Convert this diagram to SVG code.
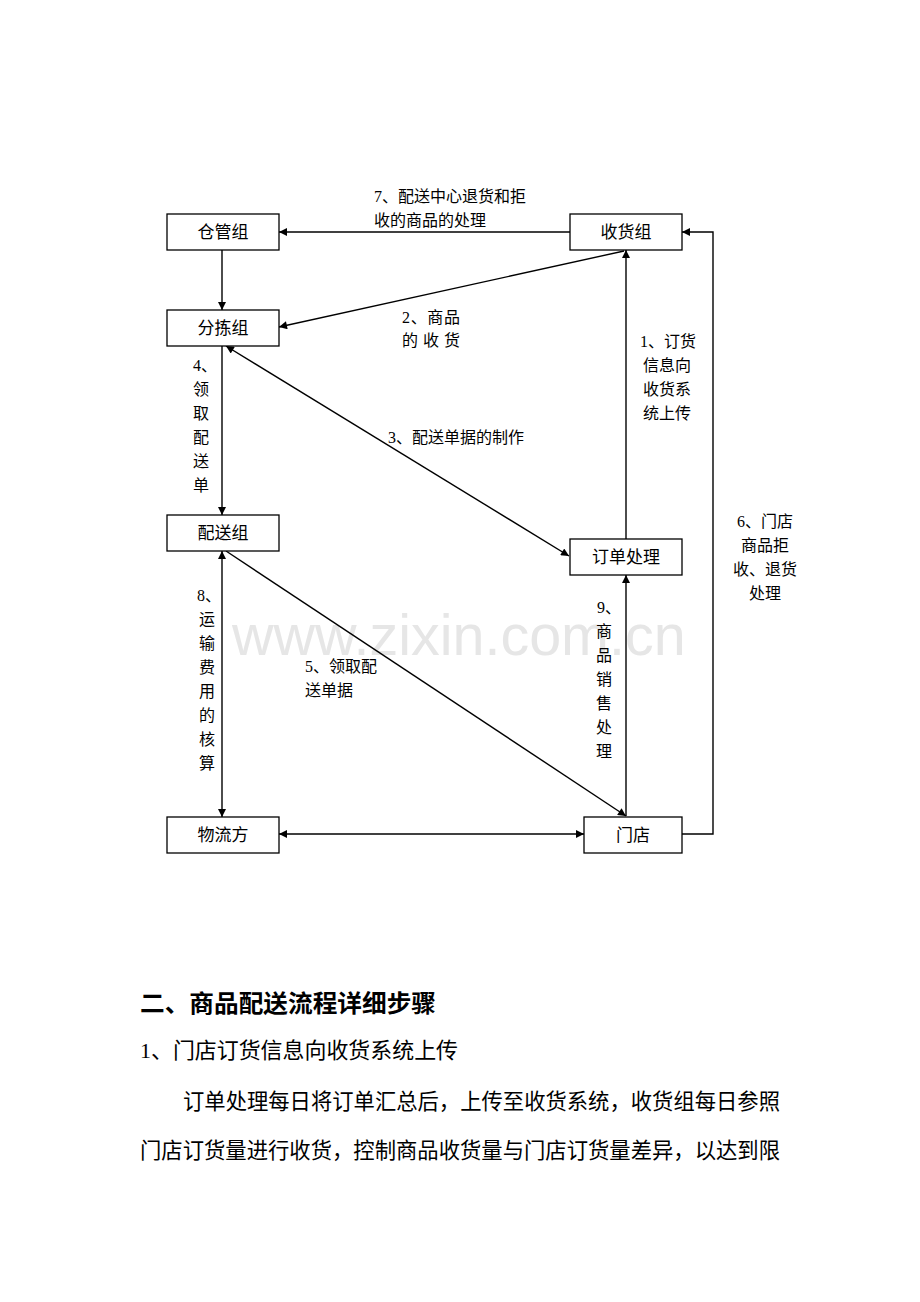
<svg xmlns="http://www.w3.org/2000/svg" width="920" height="1302" viewBox="0 0 920 1302">
<style>
.box{fill:#fff;stroke:#000;stroke-width:1.3}
.ln{fill:none;stroke:#000;stroke-width:1.4}
.nt{font-family:"Liberation Serif","Noto Sans CJK SC",serif;font-size:17px;fill:#000;text-anchor:middle}
.lb{font-family:"Liberation Serif","Noto Sans CJK SC",serif;font-size:16px;fill:#000}
.lc{font-family:"Liberation Serif","Noto Sans CJK SC",serif;font-size:16px;fill:#000;text-anchor:middle}
.wm{font-family:"Liberation Sans",Arial,sans-serif;font-size:57.5px;fill:#e6e6e6}
.h1{font-family:"Liberation Serif","Noto Sans CJK SC",serif;font-size:24px;font-weight:bold;fill:#000}
.p{font-family:"Liberation Serif","Noto Sans CJK SC",serif;font-size:22px;fill:#000}
</style>
<defs>
<marker id="ah" viewBox="0 0 10 10" refX="10" refY="5" markerWidth="10" markerHeight="8" markerUnits="userSpaceOnUse" orient="auto-start-reverse">
<path d="M0,0 L10,5 L0,10 z" fill="#000"/>
</marker>
</defs>
<rect width="920" height="1302" fill="#fff"/>
<text class="wm" x="232" y="655">www.zixin.com.cn</text>
<g id="connectors">
<line class="ln" x1="570" y1="232" x2="279" y2="232" marker-end="url(#ah)"/>
<line class="ln" x1="222" y1="250" x2="222" y2="310" marker-end="url(#ah)"/>
<line class="ln" x1="624" y1="251" x2="279" y2="327" marker-end="url(#ah)"/>
<line class="ln" x1="626" y1="539" x2="626" y2="250" marker-end="url(#ah)"/>
<line class="ln" x1="226" y1="346" x2="569" y2="556" marker-start="url(#ah)" marker-end="url(#ah)"/>
<line class="ln" x1="222" y1="346" x2="222" y2="515" marker-end="url(#ah)"/>
<line class="ln" x1="222" y1="551" x2="222" y2="817" marker-start="url(#ah)" marker-end="url(#ah)"/>
<line class="ln" x1="226" y1="551" x2="626" y2="816" marker-end="url(#ah)"/>
<line class="ln" x1="626" y1="816" x2="626" y2="575" marker-end="url(#ah)"/>
<line class="ln" x1="279" y1="834" x2="584" y2="834" marker-start="url(#ah)" marker-end="url(#ah)"/>
<polyline class="ln" points="682,834 713,834 713,232 682,232" marker-end="url(#ah)"/>
</g>
<g id="edge-labels">
<text class="lb" x="374" y="202">7、配送中心退货和拒</text>
<text class="lb" x="374" y="226">收的商品的处理</text>
<text class="lb" x="402" y="323" textLength="58" lengthAdjust="spacing">2、商品</text>
<text class="lb" x="402" y="346" textLength="58" lengthAdjust="spacing">的收货</text>
<text class="lc" x="668" y="347">1、订货</text>
<text class="lc" x="667" y="371">信息向</text>
<text class="lc" x="667" y="395">收货系</text>
<text class="lc" x="667" y="419">统上传</text>
<text class="lb" x="388" y="443">3、配送单据的制作</text>
<text class="lb" x="193" y="371">4、</text>
<text class="lc" x="201" y="395">领</text>
<text class="lc" x="201" y="419">取</text>
<text class="lc" x="201" y="443">配</text>
<text class="lc" x="201" y="467">送</text>
<text class="lc" x="201" y="491">单</text>
<text class="lb" x="197" y="601">8、</text>
<text class="lc" x="207" y="625">运</text>
<text class="lc" x="207" y="649">输</text>
<text class="lc" x="207" y="673">费</text>
<text class="lc" x="207" y="697">用</text>
<text class="lc" x="207" y="721">的</text>
<text class="lc" x="207" y="745">核</text>
<text class="lc" x="207" y="769">算</text>
<text class="lb" x="305" y="672">5、领取配</text>
<text class="lb" x="305" y="696">送单据</text>
<text class="lb" x="597" y="613">9、</text>
<text class="lc" x="604" y="637">商</text>
<text class="lc" x="604" y="661">品</text>
<text class="lc" x="604" y="685">销</text>
<text class="lc" x="604" y="709">售</text>
<text class="lc" x="604" y="733">处</text>
<text class="lc" x="604" y="757">理</text>
<text class="lc" x="765" y="527">6、门店</text>
<text class="lc" x="765" y="551">商品拒</text>
<text class="lc" x="765" y="575">收、退货</text>
<text class="lc" x="765" y="599">处理</text>
</g>
<g id="node-cangguan"><rect class="box" x="167" y="214" width="112" height="36"/><text class="nt" x="223" y="238">仓管组</text></g>
<g id="node-shouhuo"><rect class="box" x="570" y="214" width="112" height="36"/><text class="nt" x="626" y="238">收货组</text></g>
<g id="node-fenjian"><rect class="box" x="167" y="310" width="112" height="36"/><text class="nt" x="223" y="334">分拣组</text></g>
<g id="node-peisong"><rect class="box" x="167" y="515" width="112" height="36"/><text class="nt" x="223" y="539">配送组</text></g>
<g id="node-dingdan"><rect class="box" x="570" y="539" width="112" height="36"/><text class="nt" x="626" y="563">订单处理</text></g>
<g id="node-wuliu"><rect class="box" x="167" y="817" width="112" height="36"/><text class="nt" x="223" y="841">物流方</text></g>
<g id="node-mendian"><rect class="box" x="584" y="817" width="98" height="36"/><text class="nt" x="633" y="841">门店</text></g>
<g id="body-text">
<text class="h1" x="140" y="1012" textLength="296" lengthAdjust="spacingAndGlyphs">二、商品配送流程详细步骤</text>
<text class="p" x="140" y="1058" textLength="318" lengthAdjust="spacingAndGlyphs">1、门店订货信息向收货系统上传</text>
<text class="p" x="183" y="1109" textLength="597" lengthAdjust="spacingAndGlyphs">订单处理每日将订单汇总后，上传至收货系统，收货组每日参照</text>
<text class="p" x="140" y="1158" textLength="640" lengthAdjust="spacingAndGlyphs">门店订货量进行收货，控制商品收货量与门店订货量差异，以达到限</text>
</g>
</svg>
